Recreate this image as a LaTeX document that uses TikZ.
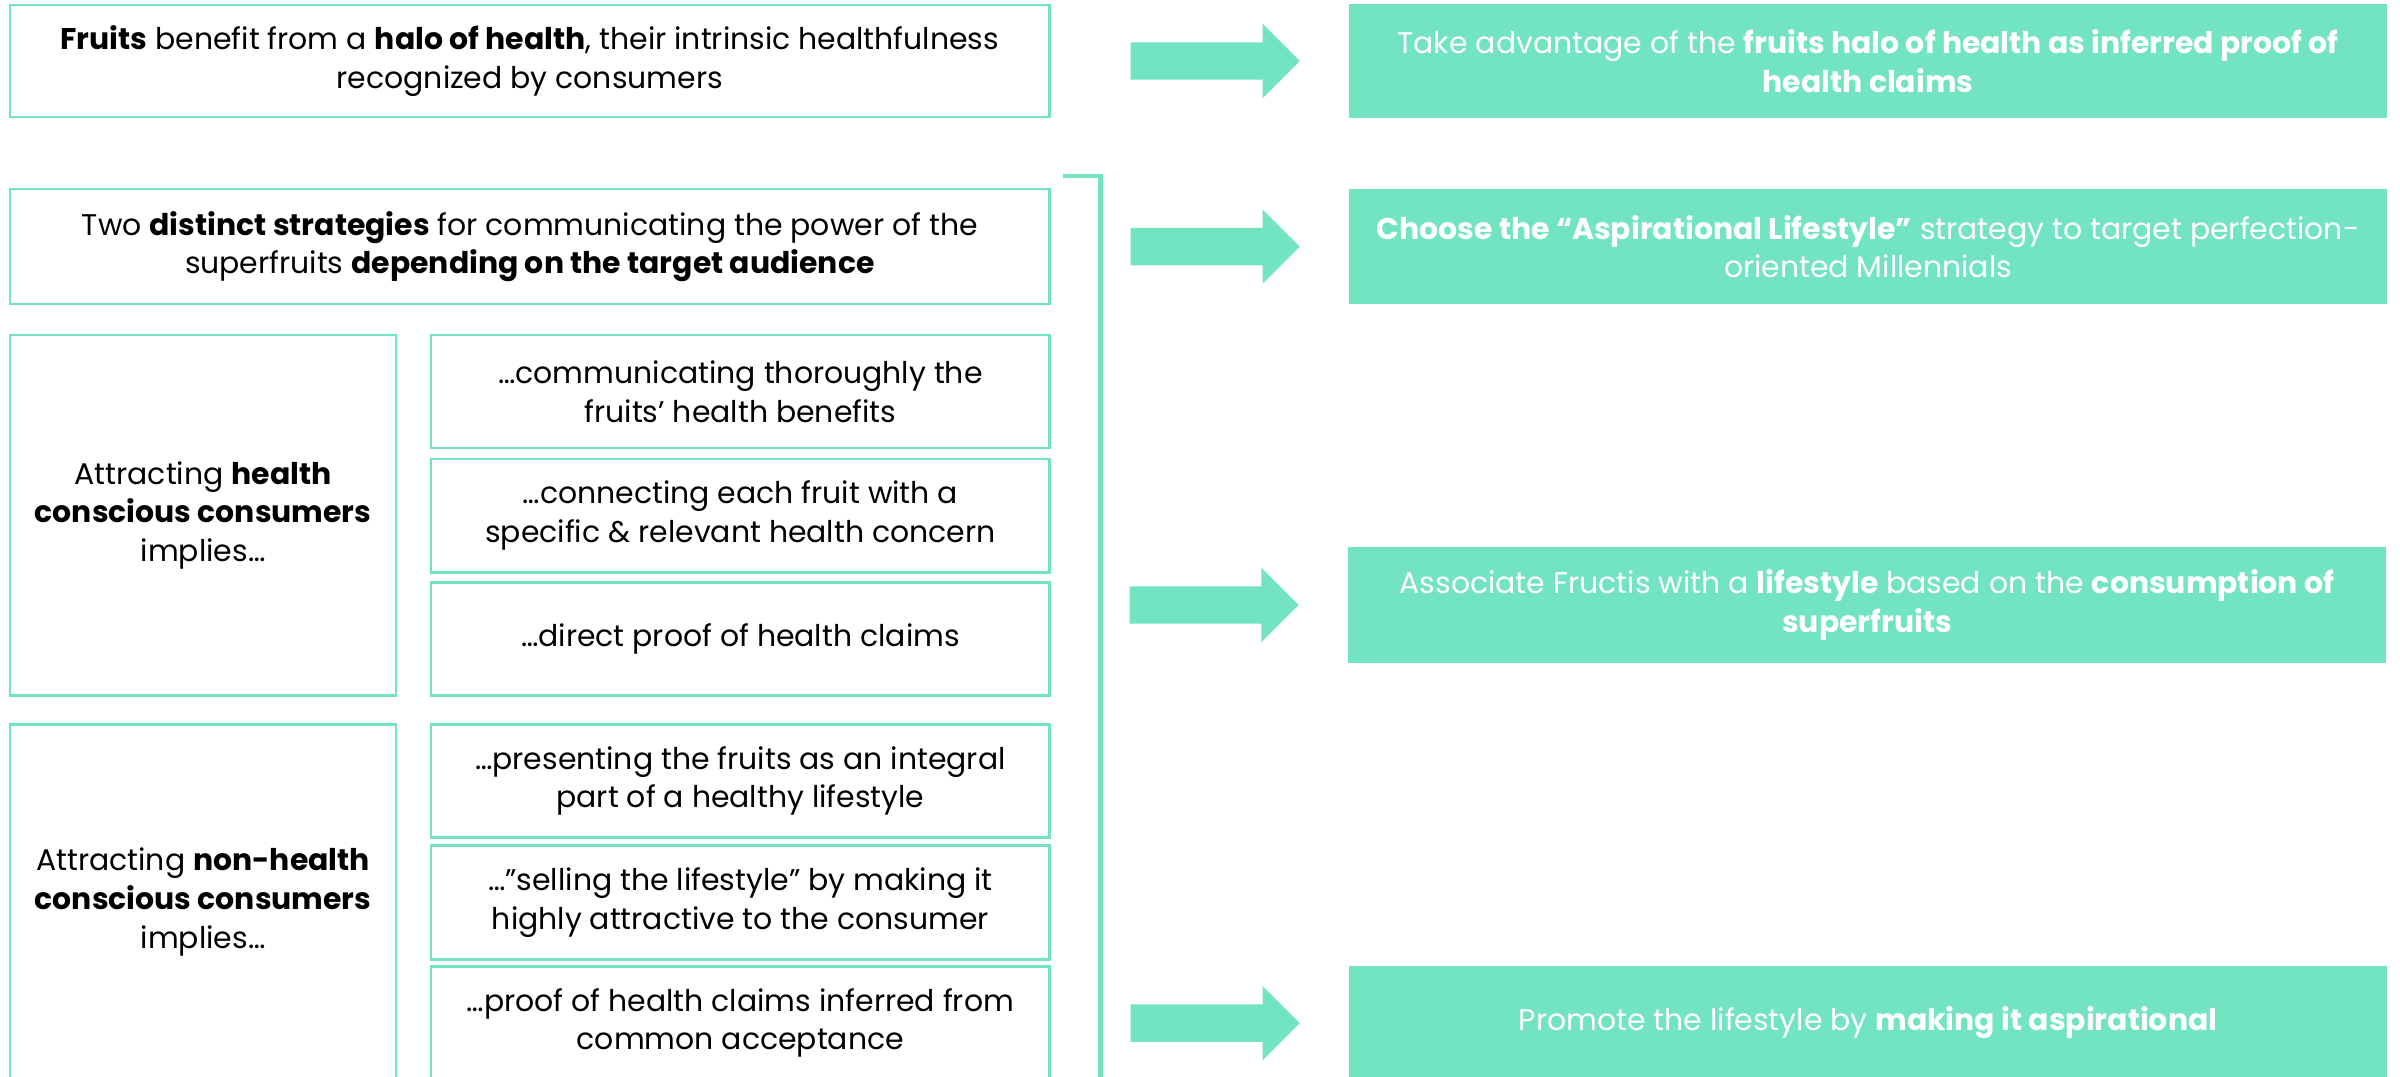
\documentclass[tikz,border=0pt]{standalone}
\usepackage{fontspec}
\setmainfont{Poppins}
\usepackage{xcolor}
\usepackage{tikz}
\usetikzlibrary{positioning, shapes.arrows}
\definecolor{mint}{HTML}{72E4C2}
\tikzset{
  factbox/.style={rectangle, draw=mint, line width=0.7pt, fill=white, outer sep=0pt,
                  align=center, inner sep=2pt, font=\fontsize{8.5pt}{11pt}\selectfont},
  actionbox/.style={rectangle, fill=mint, text=white, minimum width=10.38cm,
                    minimum height=1.15cm, align=center, inner sep=2pt, outer sep=0pt,
                    font=\fontsize{8.5pt}{11pt}\selectfont},
  fatarrow/.style={single arrow, fill=mint, draw=none, inner xsep=0pt, inner ysep=0.18cm,
                   outer sep=0pt, minimum height=1.69cm,
                   single arrow head extend=0.185cm, single arrow tip angle=90},
  bracket/.style={draw=mint, line width=1.4pt},
}

\begin{document}
\begin{tikzpicture}[x=0.01cm, y=-0.01cm]
  \useasboundingbox (0,0) rectangle (2400,1077);
  \clip (0,0) rectangle (2400,1077);

  % --- left column ---
  \node (halo) [factbox, minimum width=10.39cm, minimum height=1.12cm, anchor=north west] at (10,5)
    {\textbf{Fruits} benefit from a \textbf{halo of health}, their intrinsic healthfulness\\recognized by consumers};
  \node (strat) [factbox, minimum width=10.39cm, minimum height=1.15cm, below=0.72cm of halo]
    {Two \textbf{distinct strategies} for communicating the power of the\\superfruits \textbf{depending on the target audience}};

  \node (health) [factbox, minimum width=3.86cm, minimum height=3.6cm,
                  below=0.31cm of strat.south west, anchor=north west]
    {Attracting \textbf{health}\\\textbf{conscious consumers}\\implies…};
  \node (comm) [factbox, minimum width=6.18cm, minimum height=1.13cm,
                right=0.35cm of health.north east, anchor=north west]
    {…communicating thoroughly the\\fruits’ health benefits};
  \node (conn) [factbox, minimum width=6.18cm, minimum height=1.13cm, below=0.11cm of comm]
    {…connecting each fruit with a\\specific \& relevant health concern};
  \node (direct) [factbox, minimum width=6.18cm, minimum height=1.13cm, below=0.1cm of conn]
    {…direct proof of health claims};

  \node (nonhealth) [factbox, minimum width=3.86cm, minimum height=3.55cm, below=0.29cm of health]
    {Attracting \textbf{non-health}\\\textbf{conscious consumers}\\implies…};
  \node (present) [factbox, minimum width=6.18cm, minimum height=1.13cm,
                   right=0.35cm of nonhealth.north east, anchor=north west]
    {…presenting the fruits as an integral\\part of a healthy lifestyle};
  \node (sell) [factbox, minimum width=6.18cm, minimum height=1.14cm, below=0.08cm of present]
    {…”selling the lifestyle” by making it\\highly attractive to the consumer};
  \node (infer) [factbox, minimum width=6.18cm, minimum height=1.13cm, below=0.07cm of sell]
    {…proof of health claims inferred from\\common acceptance};

  % --- bracket ---
  \draw[bracket] (1063,176) -| (1100.5,1100);

  % --- right column ---
  \node (takeadv) [actionbox, minimum height=1.14cm, right=2.99cm of halo]
    {Take advantage of the \textbf{fruits halo of health as inferred proof of}\\\textbf{health claims}};
  \node (choose) [actionbox, right=2.99cm of strat]
    {\textbf{Choose the “Aspirational Lifestyle”} strategy to target perfection-\\oriented Millennials};
  \node (assoc) [actionbox, minimum height=1.16cm] at (1867,605)
    {Associate Fructis with a \textbf{lifestyle} based on the \textbf{consumption of}\\\textbf{superfruits}};
  \node (promote) [actionbox, right=2.99cm of infer]
    {Promote the lifestyle by \textbf{making it aspirational}};

  % --- arrows ---
  \node (arr1) [fatarrow, right=0.81cm of halo] {};
  \node (arr2) [fatarrow, right=0.81cm of strat] {};
  \node (arr3) [fatarrow, left=0.49cm of assoc] {};
  \node (arr4) [fatarrow, right=0.81cm of infer] {};
\end{tikzpicture}
\end{document}
